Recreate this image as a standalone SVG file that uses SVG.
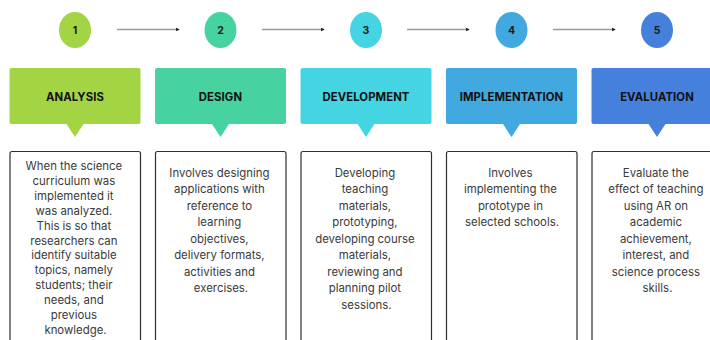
<svg xmlns="http://www.w3.org/2000/svg" width="710" height="340" viewBox="0 0 710 340">
  <defs>
    <marker id="tip" viewBox="0 0 6 6" refX="5" refY="3" markerWidth="4" markerHeight="4" orient="auto" markerUnits="userSpaceOnUse">
      <path d="M0,0 L6,3 L0,6 z" fill="#222"/>
    </marker>
    <style>
      .num { font-family: Inter, "Liberation Sans", sans-serif; font-weight: 700; font-size: 10.5px; fill: #1a1a1a; text-anchor: middle; }
      .head { font-family: Inter, "Liberation Sans", sans-serif; font-weight: 700; font-size: 11.3px; letter-spacing: 0.1px; fill: #111; text-anchor: middle; }
      .body { font-family: Inter, "Liberation Sans", sans-serif; font-size: 11.4px; fill: #3a3a3a; text-anchor: middle; }
      .card { fill: #fff; stroke: #2e2e2e; stroke-width: 1.2; }
      .link { stroke: #9a9a9a; stroke-width: 1.5; fill: none; marker-end: url(#tip); }
    </style>
  </defs>
  <rect width="710" height="340" fill="#fff"/>

  <g id="connectors">
    <line class="link" x1="117" y1="29.5" x2="179" y2="29.5"/>
    <line class="link" x1="262" y1="29.5" x2="324" y2="29.5"/>
    <line class="link" x1="407" y1="29.5" x2="469" y2="29.5"/>
    <line class="link" x1="553" y1="29.5" x2="615" y2="29.5"/>
  </g>

  <g id="step1">
    <ellipse cx="75" cy="30" rx="16" ry="18" fill="#a3d444"/>
    <text class="num" x="75" y="33.5">1</text>
    <path d="M11.5,68 H138.5 a2,2 0 0 1 2,2 V122 a2,2 0 0 1 -2,2 H83.5 L75,137 L66.5,124 H11.5 a2,2 0 0 1 -2,-2 V70 a2,2 0 0 1 2,-2 z" fill="#a3d444"/>
    <text class="head" x="75" y="100.5">ANALYSIS</text>
    <rect class="card" x="10" y="151.5" width="130.5" height="200" rx="2"/>
    <text class="body" x="75.5" y="170">
      <tspan x="75.5">When the science</tspan>
      <tspan x="75.5" dy="14.9">curriculum was</tspan>
      <tspan x="75.5" dy="14.9">implemented it</tspan>
      <tspan x="75.5" dy="14.9">was analyzed.</tspan>
      <tspan x="75.5" dy="14.9">This is so that</tspan>
      <tspan x="75.5" dy="14.9">researchers can</tspan>
      <tspan x="75.5" dy="14.9">identify suitable</tspan>
      <tspan x="75.5" dy="14.9">topics, namely</tspan>
      <tspan x="75.5" dy="14.9">students; their</tspan>
      <tspan x="75.5" dy="14.9">needs, and</tspan>
      <tspan x="75.5" dy="14.9">previous</tspan>
      <tspan x="75.5" dy="14.9">knowledge.</tspan>
    </text>
  </g>

  <g id="step2">
    <ellipse cx="220.5" cy="30" rx="16" ry="18" fill="#46d3a0"/>
    <text class="num" x="220.5" y="33.5">2</text>
    <path d="M157,68 H284 a2,2 0 0 1 2,2 V122 a2,2 0 0 1 -2,2 H229 L220.5,137 L212,124 H157 a2,2 0 0 1 -2,-2 V70 a2,2 0 0 1 2,-2 z" fill="#46d3a0"/>
    <text class="head" x="220.5" y="100.5">DESIGN</text>
    <rect class="card" x="155.5" y="151.5" width="130.5" height="200" rx="2"/>
    <text class="body" x="221" y="176.5">
      <tspan x="221">Involves designing</tspan>
      <tspan x="221" dy="16.5">applications with</tspan>
      <tspan x="221" dy="16.5">reference to</tspan>
      <tspan x="221" dy="16.5">learning</tspan>
      <tspan x="221" dy="16.5">objectives,</tspan>
      <tspan x="221" dy="16.5">delivery formats,</tspan>
      <tspan x="221" dy="16.5">activities and</tspan>
      <tspan x="221" dy="16.5">exercises.</tspan>
    </text>
  </g>

  <g id="step3">
    <ellipse cx="366" cy="30" rx="16" ry="18" fill="#44d4e2"/>
    <text class="num" x="366" y="33.5">3</text>
    <path d="M302.5,68 H429.5 a2,2 0 0 1 2,2 V122 a2,2 0 0 1 -2,2 H374.5 L366,137 L357.5,124 H302.5 a2,2 0 0 1 -2,-2 V70 a2,2 0 0 1 2,-2 z" fill="#44d4e2"/>
    <text class="head" x="366" y="100.5">DEVELOPMENT</text>
    <rect class="card" x="301" y="151.5" width="130.5" height="200" rx="2"/>
    <text class="body" x="366.5" y="176.5">
      <tspan x="366.5">Developing</tspan>
      <tspan x="366.5" dy="16.5">teaching</tspan>
      <tspan x="366.5" dy="16.5">materials,</tspan>
      <tspan x="366.5" dy="16.5">prototyping,</tspan>
      <tspan x="366.5" dy="16.5">developing course</tspan>
      <tspan x="366.5" dy="16.5">materials,</tspan>
      <tspan x="366.5" dy="16.5">reviewing and</tspan>
      <tspan x="366.5" dy="16.5">planning pilot</tspan>
      <tspan x="366.5" dy="16.5">sessions.</tspan>
    </text>
  </g>

  <g id="step4">
    <ellipse cx="511.5" cy="30" rx="16" ry="18" fill="#42a8e0"/>
    <text class="num" x="511.5" y="33.5">4</text>
    <path d="M448,68 H575 a2,2 0 0 1 2,2 V122 a2,2 0 0 1 -2,2 H520 L511.5,137 L503,124 H448 a2,2 0 0 1 -2,-2 V70 a2,2 0 0 1 2,-2 z" fill="#42a8e0"/>
    <text class="head" x="511.5" y="100.5">IMPLEMENTATION</text>
    <rect class="card" x="446.5" y="151.5" width="130.5" height="200" rx="2"/>
    <text class="body" x="512" y="176.5">
      <tspan x="512">Involves</tspan>
      <tspan x="512" dy="16.5">implementing the</tspan>
      <tspan x="512" dy="16.5">prototype in</tspan>
      <tspan x="512" dy="16.5">selected schools.</tspan>
    </text>
  </g>

  <g id="step5">
    <ellipse cx="657" cy="30" rx="16" ry="18" fill="#4581dc"/>
    <text class="num" x="657" y="33.5">5</text>
    <path d="M593.5,68 H720 V124 H665.5 L657,137 L648.5,124 H593.5 a2,2 0 0 1 -2,-2 V70 a2,2 0 0 1 2,-2 z" fill="#4581dc"/>
    <text class="head" x="657" y="100.5">EVALUATION</text>
    <rect class="card" x="592" y="151.5" width="130.5" height="200" rx="2"/>
    <text class="body" x="657.5" y="176.5">
      <tspan x="657.5">Evaluate the</tspan>
      <tspan x="657.5" dy="16.5">effect of teaching</tspan>
      <tspan x="657.5" dy="16.5">using AR on</tspan>
      <tspan x="657.5" dy="16.5">academic</tspan>
      <tspan x="657.5" dy="16.5">achievement,</tspan>
      <tspan x="657.5" dy="16.5">interest, and</tspan>
      <tspan x="657.5" dy="16.5">science process</tspan>
      <tspan x="657.5" dy="16.5">skills.</tspan>
    </text>
  </g>
</svg>
